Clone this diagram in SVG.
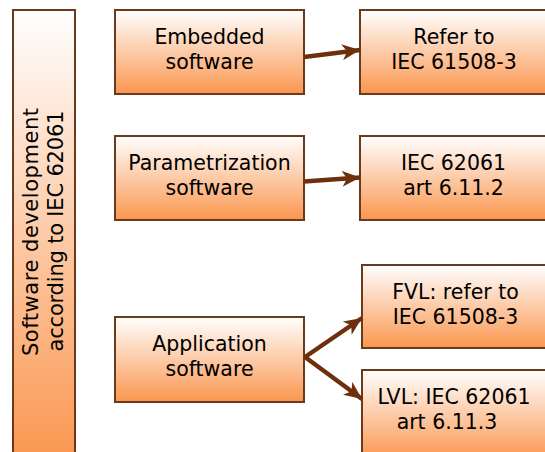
<svg xmlns="http://www.w3.org/2000/svg" width="545" height="452" viewBox="0 0 545 452">
<defs>
<linearGradient id="g" x1="0" y1="0" x2="0" y2="1">
<stop offset="0" stop-color="#ffffff"/>
<stop offset="1" stop-color="#fa964f"/>
</linearGradient>
<marker id="ah" markerUnits="userSpaceOnUse" markerWidth="20" markerHeight="16" refX="18" refY="8" orient="auto">
<path d="M0,0 L18,8 L0,16 L5,8 Z" fill="#6e300c"/>
</marker>
<style>
.box{fill:url(#g);stroke:#6b3a1c;stroke-width:2}
.t{font-family:"DejaVu Sans","Verdana",sans-serif;font-size:20.5px;fill:#000;text-anchor:middle}
.c{fill:none;stroke:#6e300c;stroke-width:4.5;marker-end:url(#ah)}
</style>
</defs>
<rect width="545" height="452" fill="#ffffff"/>
<g id="left">
<rect class="box" x="13" y="10" width="62" height="452"/>
<text class="t" style="font-size:21px" transform="translate(38,232) rotate(-90)" textLength="248">Software development</text>
<text class="t" style="font-size:21px" transform="translate(63,231) rotate(-90)" textLength="241">according to IEC 62061</text>
</g>
<g id="embedded">
<rect class="box" x="115" y="10" width="189" height="84"/>
<text class="t" x="209.5" y="44">Embedded</text>
<text class="t" x="209.5" y="69">software</text>
</g>
<g id="refer">
<rect class="box" x="360" y="10" width="189" height="84"/>
<text class="t" x="454" y="44">Refer to</text>
<text class="t" x="454" y="69">IEC 61508-3</text>
</g>
<g id="param">
<rect class="box" x="115" y="136" width="189" height="84"/>
<text class="t" x="209.5" y="170">Parametrization</text>
<text class="t" x="209.5" y="195">software</text>
</g>
<g id="iec62061">
<rect class="box" x="360" y="136" width="189" height="84"/>
<text class="t" x="453.5" y="170">IEC 62061</text>
<text class="t" x="453.5" y="195">art 6.11.2</text>
</g>
<g id="application">
<rect class="box" x="115" y="317" width="189" height="85"/>
<text class="t" x="209.5" y="351">Application</text>
<text class="t" x="209.5" y="376">software</text>
</g>
<g id="fvl">
<rect class="box" x="362" y="265" width="189" height="83"/>
<text class="t" x="455.5" y="299">FVL: refer to</text>
<text class="t" x="455.5" y="324">IEC 61508-3</text>
</g>
<g id="lvl">
<rect class="box" x="362" y="370" width="189" height="90"/>
<text class="t" x="454" y="404">LVL: IEC 62061</text>
<text class="t" x="447" y="429">art 6.11.3</text>
</g>
<g id="connectors">
<path class="c" d="M304,57 L360,50"/>
<path class="c" d="M304,181.5 L360,177.5"/>
<path class="c" d="M305,357 L362,318"/>
<path class="c" d="M305,357 L362,399"/>
</g>
</svg>
